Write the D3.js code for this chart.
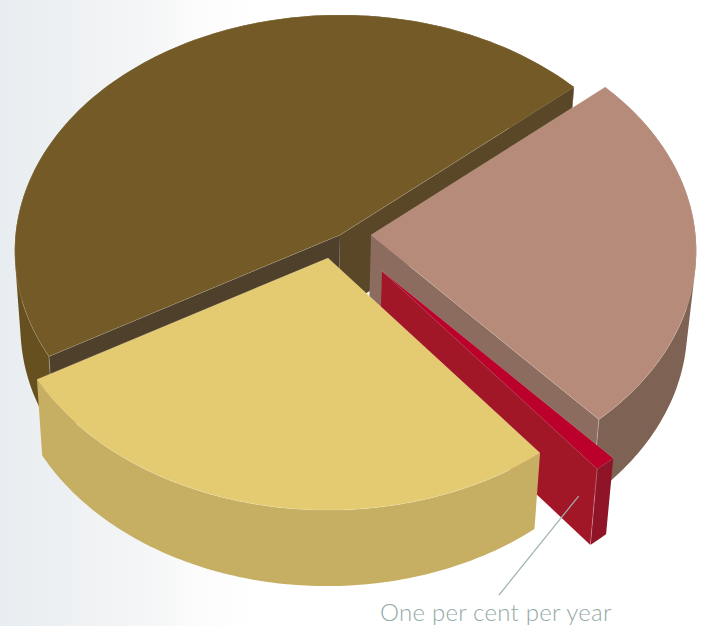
<!DOCTYPE html>
<html>
<head>
<meta charset="utf-8">
<script src="https://cdn.jsdelivr.net/npm/d3@7"></script>
<style>
  html, body { margin: 0; padding: 0; background: #fff; }
  svg { display: block; }
</style>
</head>
<body>
<svg id="chart" width="704" height="626"></svg>
<script>
// Income shares in drawing order, clockwise from the rose wedge.
const categories = ["Rose", "Red", "Yellow", "Brown"];
const shares = [24.8, 1.0, 27.3, 46.9];
const topColors = ["#b68b79", "#bb002b", "#e4cb72", "#735a26"];
const wallColors = ["#7e6254", "#8f1427", "#c6ae62", "#67501f"];
const startCutColors = ["#8c6c5f", "#a21727", "#c6ae62", "#4f402c"];
const endCutColors = ["#8c6c5f", "#a21727", "#c6ae62", "#5a4727"];
const explode = [[31, 0], [42, 36], [-12, 23], [0, 0]];
const radiusFactor = [1, 1.014, 1, 1];
const paintOrder = [3, 0, 1, 2];
const calloutText = "One per cent per year";

const width = 704, height = 626;
const hub = { x: 340, y: 235 };
const rx = 324.5, ry = 235, tilt = 0.0678;  // perspective disc
const depth = 76, converge = 0.0215, vanishX = 280;

const svg = d3.select("#chart");

// Pale wash along the left edge of the page.
const grad = svg.append("defs").append("linearGradient")
  .attr("id", "wash").attr("x1", 0).attr("x2", 1).attr("y1", 0).attr("y2", 0);
[[0, "#e8edf1"], [0.1, "#eef1f3"], [0.2, "#f4f5f6"], [0.27, "#fbfbfb"], [0.36, "#ffffff"]]
  .forEach(([offset, colour]) => grad.append("stop").attr("offset", offset).attr("stop-color", colour));
svg.append("rect").attr("width", width).attr("height", height).attr("fill", "url(#wash)");

const rad = Math.PI / 180;
const pie = d3.pie().sort(null).value(d => d)
  .startAngle(48.9 * rad).endAngle((360 + 48.9) * rad);
const arcs = pie(shares);

// Disc point (angle clockwise from north, radius 0..1) at height level z (0 top, 1 bottom).
function project(i, angle, r, z) {
  const u = r * radiusFactor[i] * Math.sin(angle);
  const v = -r * radiusFactor[i] * Math.cos(angle);
  const w = 1 - tilt * v;
  const x = hub.x + explode[i][0] + rx * u / w;
  const y = hub.y + explode[i][1] + ry * v / w;
  return [x - (x - vanishX) * converge * z, y + depth * z];
}

const line = d3.line();
const sweep = (a0, a1) => d3.range(0, 121).map(k => a0 + (a1 - a0) * k / 120);

// A cut face shows only when its outward normal points at the viewer.
const startCutVisible = a => -Math.cos(a - Math.PI / 2) > 0;
const endCutVisible = a => -Math.cos(a + Math.PI / 2) > 0;

const slices = svg.append("g").selectAll("g")
  .data(paintOrder)
  .join("g")
  .attr("data-category", i => categories[i]);

slices.each(function (i) {
  const g = d3.select(this);
  const { startAngle: a0, endAngle: a1 } = arcs[i];
  const angles = sweep(a0, a1);
  const topRim = angles.map(a => project(i, a, 1, 0));

  const cut = (a, fill) => g.append("path")
    .attr("d", line([project(i, a, 0, 0), project(i, a, 1, 0), project(i, a, 1, 1), project(i, a, 0, 1)]) + "Z")
    .attr("fill", fill);

  // Curved wall: one path of facets wound the same way, so the silhouette stays
  // solid at the tangents and no seams appear between neighbours.
  const facets = d3.pairs(angles).map(([p, q]) => {
    const quad = [project(i, p, 1, 0), project(i, q, 1, 0), project(i, q, 1, 1), project(i, p, 1, 1)];
    return line(d3.polygonArea(quad) < 0 ? quad.reverse() : quad) + "Z";
  });
  g.append("path").attr("d", facets.join("")).attr("fill", wallColors[i]);

  if (startCutVisible(a0)) cut(a0, startCutColors[i]);
  if (endCutVisible(a1)) cut(a1, endCutColors[i]);

  // Top face with a hairline highlight on its edges.
  g.append("path")
    .attr("d", line([project(i, a0, 0, 0)].concat(topRim)) + "Z")
    .attr("fill", topColors[i])
    .attr("stroke", "#fff").attr("stroke-opacity", 0.22).attr("stroke-width", 0.7)
    .attr("stroke-linejoin", "round");

  // Faint seam where a visible cut meets the curved wall.
  if (endCutVisible(a1)) {
    g.append("path")
      .attr("d", line([project(i, a1, 1, 0), project(i, a1, 1, 1)]))
      .attr("stroke", "#fff").attr("stroke-opacity", 0.35).attr("stroke-width", 0.8).attr("fill", "none");
  }
  if (startCutVisible(a0)) {
    g.append("path")
      .attr("d", line([project(i, a0, 1, 0), project(i, a0, 1, 1)]))
      .attr("stroke", "#fff").attr("stroke-opacity", 0.35).attr("stroke-width", 0.8).attr("fill", "none");
  }
});

// Callout for the narrow red wedge.
const redIndex = categories.indexOf("Red");
const redMid = (arcs[redIndex].startAngle + arcs[redIndex].endAngle) / 2;
const anchor = project(redIndex, redMid, 0.905, 0.68);
svg.append("line")
  .attr("x1", anchor[0]).attr("y1", anchor[1])
  .attr("x2", 499).attr("y2", 595)
  .attr("stroke", "#9fb3ad").attr("stroke-width", 1.2);

svg.append("text")
  .attr("x", 380).attr("y", 621)
  .attr("font-family", "Lato, 'Open Sans', sans-serif")
  .attr("font-weight", 300)
  .attr("font-size", 24)
  .attr("letter-spacing", 0.24)
  .attr("fill", "#93a9a3")
  .text(calloutText);
</script>
</body>
</html>
